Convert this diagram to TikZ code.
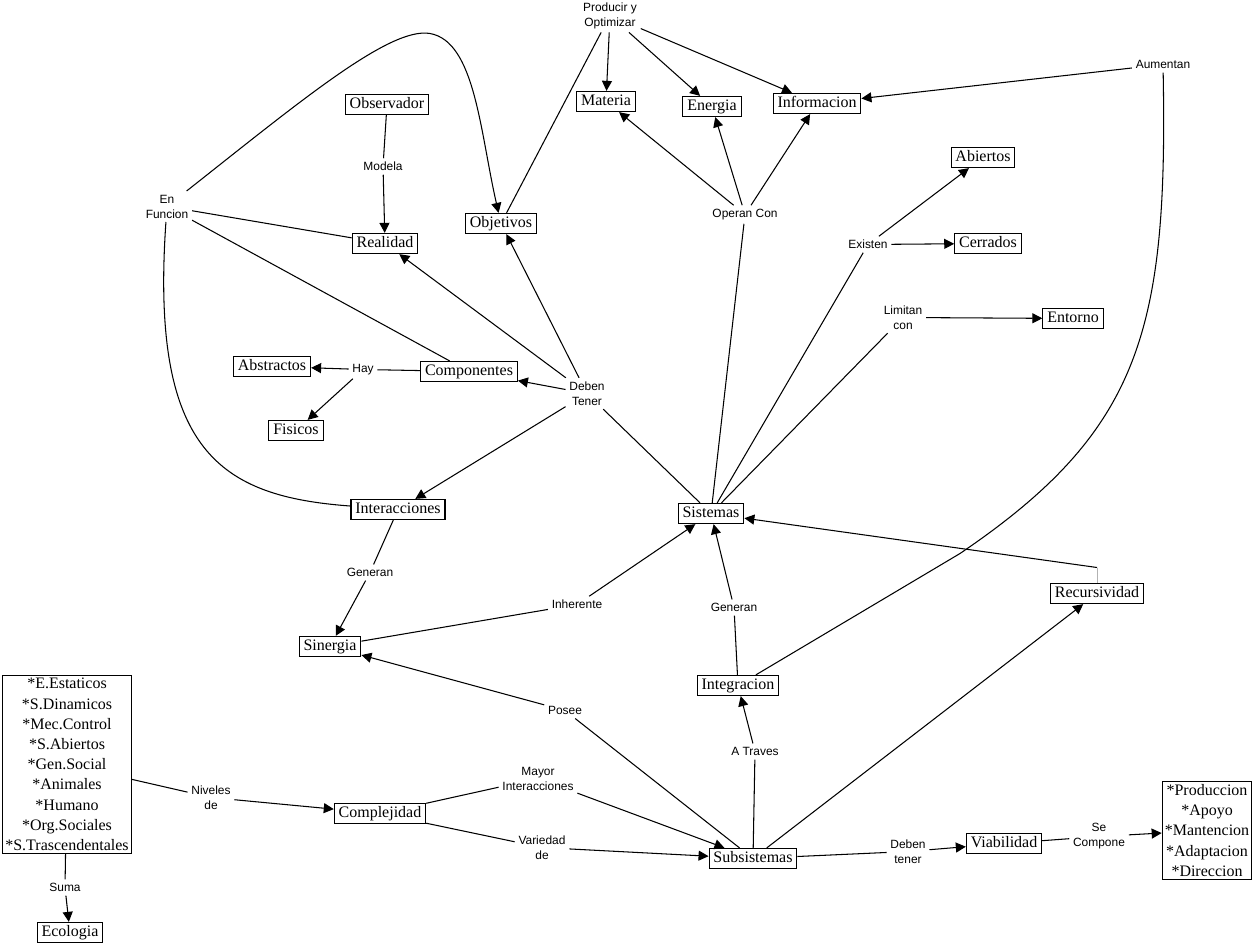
\documentclass[tikz,border=0pt]{standalone}
\usepackage{fontspec}
\setmainfont{Liberation Serif}
\setsansfont{Liberation Sans}
\usepackage{tikz}
\usetikzlibrary{arrows.meta,positioning}

\begin{document}
\begin{tikzpicture}[x=0.02cm,y=-0.02cm]
    \tikzstyle{concept_style} = [draw=black,line width=0.6pt,font=\fontsize{9.1}{11.5}\selectfont,inner xsep=2.5pt,inner ysep=1.5pt,text height=6.5pt,text depth=2pt]
    \tikzstyle{list_style} = [draw=black,line width=0.6pt,font=\fontsize{9.1}{11.5}\selectfont,inner xsep=1.5pt,inner ysep=1.5pt,align=center]
    \tikzstyle{link_style} = [font=\sffamily\fontsize{6.8}{8.5}\selectfont,inner sep=2pt,align=center]
    \tikzstyle{edge_style} = [draw=black,line width=0.6pt]
    \tikzstyle{arrow_style} = [edge_style,-{Triangle[length=2mm,width=2mm]}]
        \useasboundingbox (0,-1.5) rectangle (1256,943.5);
            \node[concept_style] (v1) at (387,103) {Observador};
            \node[concept_style] (v2) at (606,100) {Materia};
            \node[concept_style] (v3) at (712,105) {Energia};
            \node[concept_style] (v4) at (817,102) {Informacion};
            \node[concept_style] (v5) at (983,156) {Abiertos};
            \node[concept_style] (v6) at (988,242) {Cerrados};
            \node[concept_style] (v7) at (1073,317) {Entorno};
            \node[concept_style] (v8) at (501,222) {Objetivos};
            \node[concept_style] (v9) at (385,242) {Realidad};
            \node[concept_style] (v10) at (469,370) {Componentes};
            \node[concept_style] (v11) at (272,365) {Abstractos};
            \node[concept_style] (v12) at (296,429) {Fisicos};
            \node[concept_style] (v13) at (398,508) {Interacciones};
            \node[concept_style] (v14) at (711,512) {Sistemas};
            \node[concept_style] (v15) at (1097,592) {Recursividad};
            \node[concept_style] (v16) at (330,645) {Sinergia};
            \node[concept_style] (v17) at (738,684) {Integracion};
            \node[concept_style] (v18) at (380,812) {Complejidad};
            \node[concept_style] (v19) at (753,857) {Subsistemas};
            \node[concept_style] (v20) at (1004,842) {Viabilidad};
            \node[list_style] (v21) at (1207,829) {*Produccion\\*Apoyo\\*Mantencion\\*Adaptacion\\*Direccion};
            \node[list_style] (v22) at (67,763) {*E.Estaticos\\*S.Dinamicos\\*Mec.Control\\*S.Abiertos\\*Gen.Social\\*Animales\\*Humano\\*Org.Sociales\\*S.Trascendentales};
            \node[concept_style] (v23) at (70,931) {Ecologia};
            \node[link_style] (l1) at (610,14) {Producir y\\Optimizar};
            \node[link_style] (l2) at (383,165) {Modela};
            \node[link_style] (l3) at (167,205) {En\\Funcion};
            \node[link_style] (l4) at (745,213) {Operan Con};
            \node[link_style] (l5) at (868,243) {Existen};
            \node[link_style] (l6) at (903,316) {Limitan\\con};
            \node[link_style] (l7) at (1163,63) {Aumentan};
            \node[link_style] (l8) at (363,368) {Hay};
            \node[link_style] (l9) at (587,392) {Deben\\Tener};
            \node[link_style] (l10) at (370,571) {Generan};
            \node[link_style] (l11) at (577,603) {Inherente};
            \node[link_style] (l12) at (734,606) {Generan};
            \node[link_style] (l13) at (565,709) {Posee};
            \node[link_style] (l14) at (755,750) {A Traves};
            \node[link_style] (l15) at (538,777) {Mayor\\Interacciones};
            \node[link_style] (l16) at (211,796) {Niveles\\de};
            \node[link_style] (l17) at (542,846) {Variedad\\de};
            \node[link_style] (l18) at (908,850) {Deben\\tener};
            \node[link_style] (l19) at (1099,835) {Se\\Compone};
            \node[link_style] (l20) at (65,886) {Suma};
            \coordinate (l21) at (1097,566);
            \draw[edge_style]  (v1) edge (l2);
            \draw[edge_style]  (l2) edge[arrow_style] (v9);
            \draw[edge_style]  (v9) edge (l3);
            \draw[edge_style]  (v10) edge (l3);
            \draw[edge_style]  (l3) .. controls (150,450) and (220,495) .. (v13);
            \draw[arrow_style]  (l3) .. controls (300,100) and (390,25) .. (430,32) .. controls (475,40) and (480,130) .. (v8);
            \draw[edge_style]  (v8) edge (l1);
            \draw[edge_style]  (l1) edge[arrow_style] (v2);
            \draw[edge_style]  (l1) edge[arrow_style] (v3);
            \draw[edge_style]  (l1) edge[arrow_style] (v4);
            \draw[edge_style]  (v14) edge (l4);
            \draw[edge_style]  (l4) edge[arrow_style] (v2);
            \draw[edge_style]  (l4) edge[arrow_style] (v3);
            \draw[edge_style]  (l4) edge[arrow_style] (v4);
            \draw[edge_style]  (v14) edge (l5);
            \draw[edge_style]  (l5) edge[arrow_style] (v5);
            \draw[edge_style]  (l5) edge[arrow_style] (v6);
            \draw[edge_style]  (v14) edge (l6);
            \draw[edge_style]  (l6) edge[arrow_style] (v7);
            \draw[edge_style]  (v14) edge (l9);
            \draw[edge_style]  (l9) edge[arrow_style] (v9);
            \draw[edge_style]  (l9) edge[arrow_style] (v8);
            \draw[edge_style]  (l9) edge[arrow_style] (v10);
            \draw[edge_style]  (l9) edge[arrow_style] (v13);
            \draw[edge_style]  (v10) edge (l8);
            \draw[edge_style]  (l8) edge[arrow_style] (v11);
            \draw[edge_style]  (l8) edge[arrow_style] (v12);
            \draw[edge_style]  (v13) edge (l10);
            \draw[edge_style]  (l10) edge[arrow_style] (v16);
            \draw[edge_style]  (v16) edge (l11);
            \draw[edge_style]  (l11) edge[arrow_style] (v14);
            \draw[edge_style]  (v19) edge (l13);
            \draw[edge_style]  (l13) edge[arrow_style] (v16);
            \draw[edge_style]  (v17) edge (l12);
            \draw[edge_style]  (l12) edge[arrow_style] (v14);
            \draw[edge_style]  (v17) -- (960,552) .. controls (1140,430) and (1168,330) .. (l7);
            \draw[edge_style]  (l7) edge[arrow_style] (v4);
            \draw[edge_style]  (v19) edge (l14);
            \draw[edge_style]  (l14) edge[arrow_style] (v17);
            \draw[edge_style]  (v19) edge[arrow_style] (v15);
            \draw[draw=black!30,line width=0.4pt]  (v15) -- (l21);
            \draw[edge_style]  (l21) edge[arrow_style] (v14);
            \draw[edge_style]  (v18) edge (l15);
            \draw[edge_style]  (l15) edge[arrow_style] (v19);
            \draw[edge_style]  (v18) edge (l17);
            \draw[edge_style]  (l17) edge[arrow_style] (v19);
            \draw[edge_style]  (v22) edge (l16);
            \draw[edge_style]  (l16) edge[arrow_style] (v18);
            \draw[edge_style]  (v22) edge (l20);
            \draw[edge_style]  (l20) edge[arrow_style] (v23);
            \draw[edge_style]  (v19) edge (l18);
            \draw[edge_style]  (l18) edge[arrow_style] (v20);
            \draw[edge_style]  (v20) edge (l19);
            \draw[edge_style]  (l19) edge[arrow_style] (v21);
\end{tikzpicture}
\end{document}
